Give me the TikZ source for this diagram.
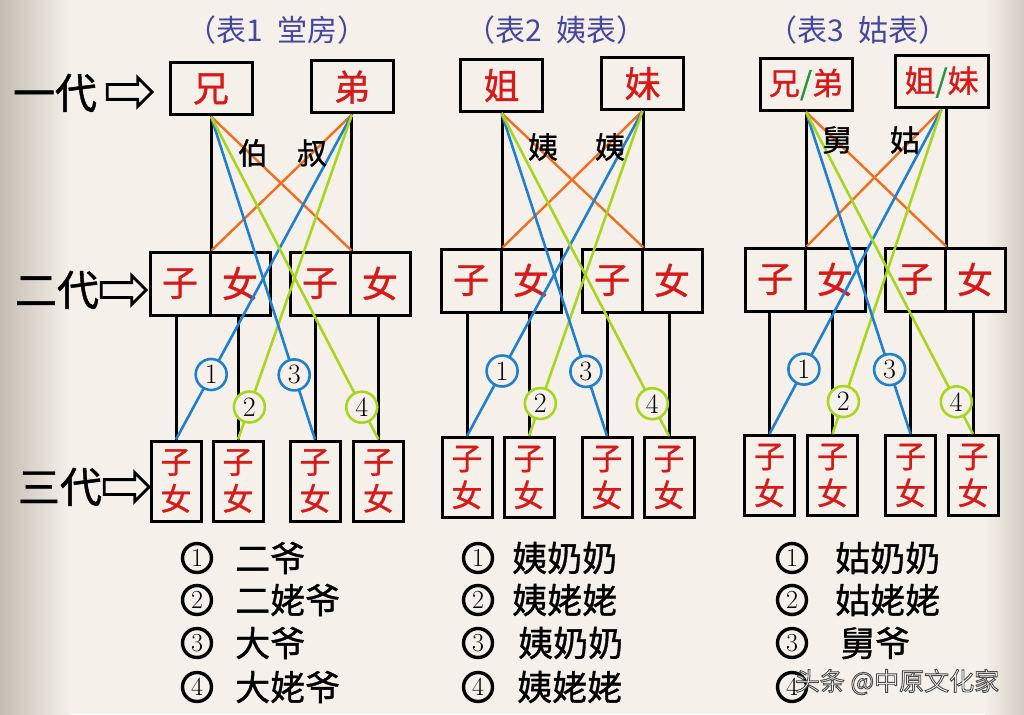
\documentclass[tikz,border=0pt]{standalone}
\usepackage{fontspec}
\newfontfamily\cjk{Noto Sans CJK SC}[FakeBold=1]
\newfontfamily\cjkplain{Noto Sans CJK SC}
\usetikzlibrary{shapes.arrows}

\definecolor{paper}{RGB}{245,241,234}
\definecolor{edgegray}{RGB}{196,188,178}
\definecolor{redtxt}{RGB}{214,26,26}
\definecolor{titleblue}{RGB}{70,70,160}
\definecolor{linkblue}{RGB}{32,128,208}
\definecolor{linkgreen}{RGB}{168,214,32}
\definecolor{linkorange}{RGB}{240,110,32}
\definecolor{slashgreen}{RGB}{40,150,60}

\tikzset{
  topbox/.style={draw, line width=3pt, fill=paper, minimum width=82pt, minimum height=52pt,
    inner sep=0pt, text=redtxt, font=\cjk\fontsize{36}{40}\selectfont},
  cellbox/.style={draw, line width=3pt, fill=paper, minimum width=60pt, minimum height=63pt,
    inner sep=0pt, text=redtxt, font=\cjk\fontsize{36}{40}\selectfont},
  kidbox/.style={draw, line width=3pt, fill=paper, minimum width=50pt, minimum height=80pt,
    inner sep=0pt, align=center, text=redtxt, font=\cjk\fontsize{31}{37}\selectfont},
  numring/.style={circle, draw, line width=2.6pt, fill=paper, minimum size=31pt, inner sep=0pt,
    text=black, font=\fontsize{28}{28}\selectfont},
  gentext/.style={font=\cjk\fontsize{42}{46}\selectfont},
  genarrow/.style={single arrow, draw, line width=2.8pt, inner sep=6pt, minimum height=45pt,
    single arrow head extend=7pt},
  title/.style={text=titleblue, font=\cjkplain\fontsize{30}{34}\selectfont},
  kin/.style={font=\cjk\fontsize{30}{34}\selectfont},
  listnum/.style={circle, draw, line width=3.4pt, minimum size=29pt, inner sep=0pt,
    font=\fontsize{26}{26}\selectfont},
  listtext/.style={anchor=west, inner sep=0pt, font=\cjk\fontsize{35}{38}\selectfont},
  stem/.style={line width=3pt},
  blueline/.style={draw=linkblue, line width=2.6pt},
  greenline/.style={draw=linkgreen, line width=2.6pt},
  orangeline/.style={draw=linkorange, line width=2.4pt}
}

% outlined text: fill with the current colour, stroke in dark grey
\newcommand{\outlined}[1]{\special{pdf:literal direct 2 Tr 0.9 w 0.3 G}#1\special{pdf:literal direct 0 Tr}}

% connectors of one table, #1 = prefix of its node names
\newcommand{\linkpanel}[1]{%
  % black stems
  \draw[stem] (#1s1.north east) -- (#1s1.north east |- #1p1.south);
  \draw[stem] (#1s3.north east) -- (#1s3.north east |- #1p2.south);
  \foreach \k in {1,...,4}
    \draw[stem] (#1k\k.north) -- (#1k\k.north |- #1s\k.south);
  % coloured cross lines
  \draw[orangeline] (#1p1.south) -- (#1s3.north east);
  \draw[orangeline] (#1p2.south) -- (#1s1.north east);
  \draw[blueline] (#1p2.south) -- node[numring, draw=linkblue, pos=0.8] (#1n1) {1} (#1k1.north);
  \draw[greenline] (#1p2.south) -- node[numring, draw=linkgreen, pos=0.9] (#1n2) {2} (#1k2.north);
  \draw[blueline] (#1p1.south) -- node[numring, draw=linkblue, pos=0.8] (#1n3) {3} (#1k3.north);
  \draw[greenline] (#1p1.south) -- node[numring, draw=linkgreen, pos=0.9] (#1n4) {4} (#1k4.north);
}

\begin{document}
\begin{tikzpicture}[x=1pt, y=-1pt]
  \useasboundingbox (0,0) rectangle (1024,714);
  \fill[paper] (0,0) rectangle (1024,714);
  \shade[left color=edgegray, right color=paper] (0,0) rectangle (70,714);
  \shade[left color=paper, right color=edgegray!70!paper] (985,0) rectangle (1024,714);

  %%%%% generations %%%%%
  \node[gentext] (gen1) at (55,93) {一代};
  \node[genarrow] (arr1) at (126,92) {};
  \node[gentext] (gen2) at (57,290) {二代};
  \node[genarrow] (arr2) at (120,290) {};
  \node[gentext] (gen3) at (60,487) {三代};
  \node[genarrow] (arr3) at (123,487) {};

  %%%%% table 1 %%%%%
  \node[title] (atitle) at (277,30) {（表1\enspace 堂房）};
  \node[topbox] (ap1) at (211,89) {兄};
  \node[topbox] (ap2) at (352,87) {弟};
  \node[cellbox] (as1) at (180,283.5) {子};
  \node[cellbox] (as2) at (240,283.5) {女};
  \node[cellbox] (as3) at (320,283.5) {子};
  \node[cellbox] (as4) at (380,283.5) {女};
  \node[kidbox] (ak1) at (176,481) {子\\女};
  \node[kidbox] (ak2) at (238,481) {子\\女};
  \node[kidbox] (ak3) at (315,481) {子\\女};
  \node[kidbox] (ak4) at (378.5,481) {子\\女};
  \linkpanel{a}
  \node[kin] (akin1) at (253,153) {伯};
  \node[kin] (akin2) at (312,153) {叔};

  %%%%% table 2 %%%%%
  \node[title] (btitle) at (556,30) {（表2\enspace 姨表）};
  \node[topbox] (bp1) at (501.5,85.5) {姐};
  \node[topbox] (bp2) at (642.5,83.5) {妹};
  \node[cellbox] (bs1) at (471,280.5) {子};
  \node[cellbox] (bs2) at (531,280.5) {女};
  \node[cellbox] (bs3) at (612,280.5) {子};
  \node[cellbox] (bs4) at (672,280.5) {女};
  \node[kidbox] (bk1) at (467,477.5) {子\\女};
  \node[kidbox] (bk2) at (529,477.5) {子\\女};
  \node[kidbox] (bk3) at (607,477.5) {子\\女};
  \node[kidbox] (bk4) at (669,477.5) {子\\女};
  \linkpanel{b}
  \node[kin] (bkin1) at (543,147) {姨};
  \node[kin] (bkin2) at (610,147) {姨};

  %%%%% table 3 %%%%%
  \node[title] (ctitle) at (858,30) {（表3\enspace 姑表）};
  \node[topbox, minimum width=92pt, font=\cjk\fontsize{31}{34}\selectfont] (cp1) at (806,84.5) {兄\textcolor{slashgreen}{/}弟};
  \node[topbox, minimum width=93pt, font=\cjk\fontsize{31}{34}\selectfont] (cp2) at (941.5,82) {姐\textcolor{slashgreen}{/}妹};
  \node[cellbox] (cs1) at (775,279.5) {子};
  \node[cellbox] (cs2) at (835,279.5) {女};
  \node[cellbox] (cs3) at (915,279.5) {子};
  \node[cellbox] (cs4) at (975,279.5) {女};
  \node[kidbox] (ck1) at (769.5,475.5) {子\\女};
  \node[kidbox] (ck2) at (832.5,475.5) {子\\女};
  \node[kidbox] (ck3) at (910.5,475.5) {子\\女};
  \node[kidbox] (ck4) at (973,475.5) {子\\女};
  \linkpanel{c}
  \node[kin] (ckin1) at (837,140) {舅};
  \node[kin] (ckin2) at (905,140) {姑};

  %%%%% lists %%%%%
  \foreach \t/\y [count=\r] in {二爷/558, 二姥爷/600, 大爷/643, 大姥爷/687}{
    \node[listnum] (la\r) at (197,\y) {\r};
    \node[listtext] (ta\r) at (235,\y) {\t};
  }
  \foreach \t/\y/\x [count=\r] in {姨奶奶/558/512, 姨姥姥/600/512, 姨奶奶/643/518, 姨姥姥/687/517}{
    \node[listnum] (lb\r) at (478,\y) {\r};
    \node[listtext] (tb\r) at (\x,\y) {\t};
  }
  \foreach \t/\y/\x [count=\r] in {姑奶奶/558/835, 姑姥姥/600/835, 舅爷/643/840}{
    \node[listnum] (lc\r) at (792,\y) {\r};
    \node[listtext] (tc\r) at (\x,\y) {\t};
  }
  \node[listnum] (lc4) at (792,687) {4};

  % watermark
  \node[text=white, font=\cjkplain\fontsize{25}{28}\selectfont] (wmark) at (897,682) {\outlined{头条 @中原文化家}};
\end{tikzpicture}
\end{document}
